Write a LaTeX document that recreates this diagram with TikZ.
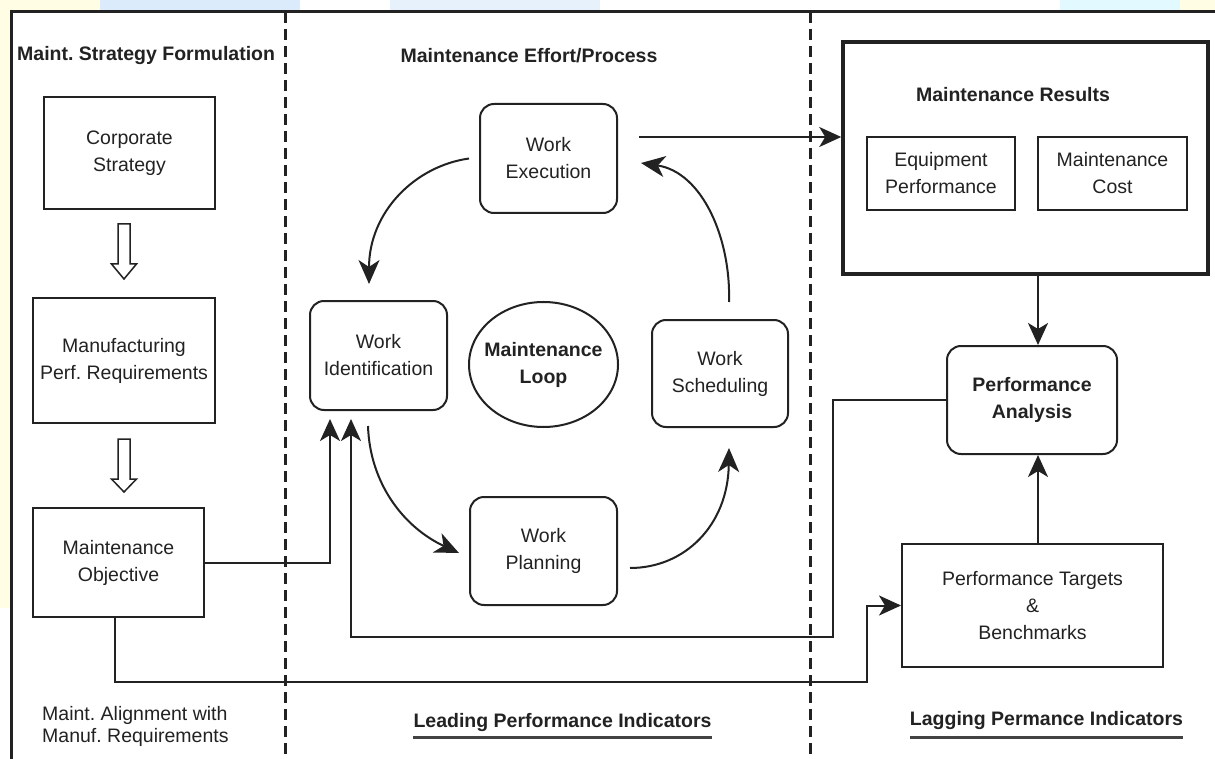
\documentclass[tikz,border=0pt]{standalone}
\usepackage{fontspec}
\setmainfont{Liberation Sans}
\usetikzlibrary{arrows.meta,shapes.geometric,calc}
\definecolor{ink}{HTML}{222222}
\definecolor{paleyel}{HTML}{FFFDE4}
\definecolor{paleblue}{HTML}{DCEBFB}
\definecolor{palecyan}{HTML}{E2F9FF}
\frenchspacing
\begin{document}
\begin{tikzpicture}[x=1pt,y=-1pt,
  every node/.style={font=\frenchspacing\fontsize{19.5}{27}\selectfont, text=ink},
  box/.style={draw=ink, line width=2pt, inner sep=2pt, align=center},
  rbox/.style={box, rounded corners=14pt},
  hdr/.style={font=\frenchspacing\bfseries\fontsize{19.5}{27}\selectfont, inner sep=0pt},
  conn/.style={draw=ink, line width=2pt},
  arr/.style={conn, -{Stealth[length=22pt,width=20pt,inset=6pt]}},
  carr/.style={conn, -{Stealth[length=24pt,width=21pt,inset=7pt]}},
  hollow/.style={draw=ink, line width=1.5pt, fill=white, line join=miter},
  divider/.style={draw=ink, line width=3pt, dash pattern=on 11pt off 6pt},
  uline/.style={draw=ink!85, line width=3pt}
]
\useasboundingbox (0,0) rectangle (1215,759);
% slide background
\fill[white] (0,0) rectangle (1215,759);
\fill[paleyel] (0,0) rectangle (100,10);
\fill[paleyel] (0,0) rectangle (10,608);
\fill[paleblue] (100,0) rectangle (300,10);
\fill[paleblue!70] (390,0) rectangle (600,10);
\fill[palecyan] (1060,0) rectangle (1180,10);
\fill[paleyel] (1180,0) rectangle (1215,10);

% frame and dividers
\draw[ink, line width=3pt] (11,759) -- (11,12) -- (1215,12);
\draw[divider] (285,12) -- (285,759);
\draw[divider] (810,12) -- (810,759);

% headings
\node[hdr, anchor=west] (h1) at (17,56) {Maint. Strategy Formulation};
\node[hdr] (h2) at (529,56) {Maintenance Effort/Process};

% left column
\node[box, minimum width=171pt, minimum height=112pt] (corp) at (129.5,153) {Corporate\\Strategy};
\node[box, minimum width=182pt, minimum height=125pt] (manu) at (124,360.5) {Manufacturing\\Perf. Requirements};
\node[box, minimum width=171pt, minimum height=109pt] (obj) at (118.5,562.5) {Maintenance\\Objective};
\draw[hollow] ($(manu.north)+(-6,-73)$) -- ++(0,40) -- ++(-6.5,0) -- ++(12.5,15) -- ++(12.5,-15) -- ++(-6.5,0) -- ++(0,-40) -- cycle;
\draw[hollow] ($(obj.north)+(-0.5,-68)$) -- ++(0,40) -- ++(-6.5,0) -- ++(12.5,13) -- ++(12.5,-13) -- ++(-6.5,0) -- ++(0,-40) -- cycle;
\node[anchor=west, align=left, inner sep=0pt, font=\frenchspacing\fontsize{19.5}{22}\selectfont] (alig) at (42,726) {Maint. Alignment with\\Manuf. Requirements};

% maintenance loop
\node[rbox, minimum width=137pt, minimum height=109pt] (we) at (548.5,158.5) {Work\\Execution};
\node[rbox, minimum width=137pt, minimum height=109pt] (wid) at (378.5,355.5) {Work\\Identification};
\node[ellipse, draw=ink, line width=2pt, minimum width=149pt, minimum height=125pt, inner sep=0pt,
      label={[hdr, align=center]center:{Maintenance\\Loop}}] (loop) at (543.5,364.5) {};
\node[rbox, minimum width=136pt, minimum height=107pt] (ws) at (720,373.5) {Work\\Scheduling};
\node[rbox, minimum width=147pt, minimum height=108pt] (wp) at (543.5,551) {Work\\Planning};

\draw[carr] ([xshift=-10pt]we.west) .. controls (415,166) and (369,212) .. ([shift={(-9.5pt,16pt)}]wid.north);
\draw[carr] ([shift={(-10.5pt,-15pt)}]wid.south) .. controls (370,485) and (405,528) .. ([shift={(-10pt,-2pt)}]wp.west);
\draw[carr] ([shift={(12pt,-17pt)}]wp.east) .. controls (685,568) and (728,525) .. ([shift={(9pt,-20pt)}]ws.south);
\draw[carr] ([shift={(9pt,17pt)}]ws.north) .. controls (731,238) and (702,172) .. ([shift={(23pt,-4.5pt)}]we.east);

\node[hdr] (lead) at (562.5,722) {Leading Performance Indicators};
\draw[uline] ([yshift=-15pt]lead.west) -- ([yshift=-15pt]lead.east);

% right column
\node[box, line width=3.5pt, minimum width=365pt, minimum height=232pt] (mr) at (1025.5,158) {};
\node[hdr] (mrt) at (1013,95) {Maintenance Results};
\node[box, minimum width=148pt, minimum height=73pt] (eq) at (941,173.5) {Equipment\\Performance};
\node[box, minimum width=149pt, minimum height=73pt] (mc) at (1112.5,173.5) {Maintenance\\Cost};
\node[rbox, minimum width=170pt, minimum height=108pt, font=\bfseries\fontsize{19.5}{27}\selectfont] (pa) at (1032,400) {Performance\\Analysis};
\node[box, minimum width=261pt, minimum height=123pt] (pt) at (1032.5,605.5) {Performance Targets\\\&\\Benchmarks};
\node[hdr] (lag) at (1046.5,720) {Lagging Permance Indicators};
\draw[uline] ([yshift=-17pt]lag.west) -- ([yshift=-17pt]lag.east);

% connectors
\coordinate (pax) at ($(pa.north)+(6,0)$);
\coordinate (pbx) at ($(pa.south)+(6,0)$);
\coordinate (k1) at (833,637);
\coordinate (k2) at (867,682);
\draw[arr] ([shift={(21pt,21.5pt)}]we.east) -- ([yshift=21pt]mr.west);
\draw[arr] (pax |- mr.south) -- (pax);
\draw[arr] (pbx |- pt.north) -- (pbx);
\draw[arr] (obj.east) -| ([xshift=21pt,yshift=-8pt]wid.south west);
\draw[arr] (pa.west) -| (k1) -| ([xshift=42pt,yshift=-8pt]wid.south west);
\draw[arr] ([xshift=-3.5pt]obj.south) |- (k2) |- (pt.west);
\end{tikzpicture}
\end{document}
